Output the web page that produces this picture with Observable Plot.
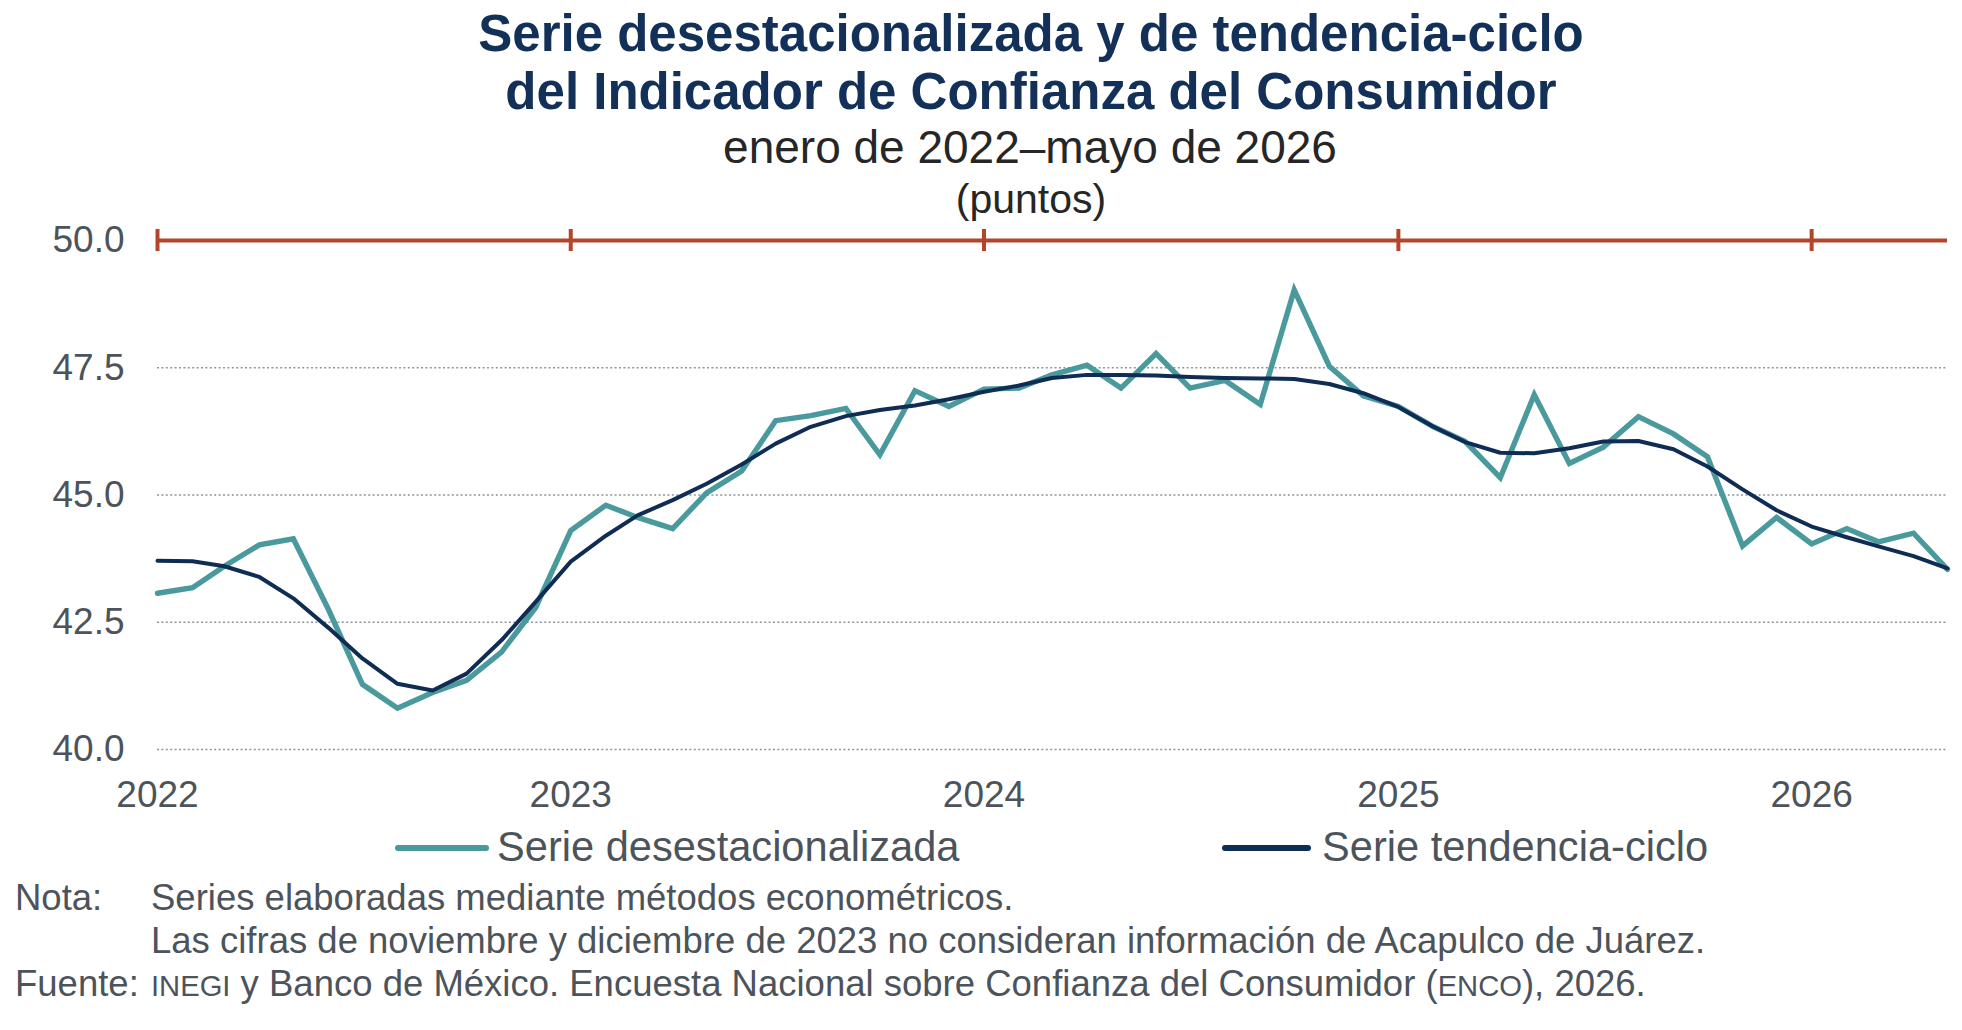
<!DOCTYPE html>
<html>
<head>
<meta charset="utf-8">
<script src="https://cdn.jsdelivr.net/npm/d3@7"></script>
<script src="https://cdn.jsdelivr.net/npm/@observablehq/plot@0.6"></script>
<style>
  html, body { margin: 0; padding: 0; background: #ffffff; }
  body { width: 1962px; height: 1030px; position: relative; overflow: hidden;
         font-family: "Liberation Sans", Arial, Helvetica, sans-serif; }
  .t { position: absolute; white-space: nowrap; line-height: 1; }
  .c { transform: translateX(-50%); }
  .title { font-weight: bold; font-size: 51px; color: #123058; }
  .sub { font-size: 46px; color: #262626; }
  .unit { font-size: 41px; color: #262626; }
  .leg { font-size: 41.6px; color: #4c535b; }
  .note { font-size: 36.5px; color: #4c535b; }
  .sc { font-size: 0.8em; }
  .sw { position: absolute; height: 6px; border-radius: 3px; }
  #chart { position: absolute; left: 0; top: 200px; }
</style>
</head>
<body>
<div class="t c title" style="left:1031px; top:8px;">Serie desestacionalizada y de tendencia-ciclo</div>
<div class="t c title" style="left:1031px; top:66px;">del Indicador de Confianza del Consumidor</div>
<div class="t c sub" style="left:1030px; top:124px;">enero de 2022–mayo de 2026</div>
<div class="t c unit" style="left:1031px; top:179px;">(puntos)</div>
<div id="chart"></div>
<div class="sw" style="left:395px; width:94px; top:845px; background:#4a9a9d;"></div>
<div class="t leg" style="left:497px; top:826px;">Serie desestacionalizada</div>
<div class="sw" style="left:1222px; width:89px; top:845px; background:#0f2c55;"></div>
<div class="t leg" style="left:1322px; top:826px;">Serie tendencia-ciclo</div>
<div class="t note" style="left:15px; top:880px;">Nota:</div>
<div class="t note" style="left:151px; top:880px;">Series elaboradas mediante métodos econométricos.</div>
<div class="t note" style="left:151px; top:923px;">Las cifras de noviembre y diciembre de 2023 no consideran información de Acapulco de Juárez.</div>
<div class="t note" style="left:15px; top:966px;">Fuente:</div>
<div class="t note" style="left:151px; top:966px;"><span class="sc">INEGI</span> y Banco de México. Encuesta Nacional sobre Confianza del Consumidor (<span class="sc">ENCO</span>), 2026.</div>
<script>
// Primer mes de la serie: enero de 2022 (53 meses hasta mayo de 2026)
const inicio = "2022-01-01";
const fin = "2026-05-01";

const desestacionalizada = [
  43.07, 43.18, 43.60, 44.02, 44.14, 42.75, 41.28, 40.81, 41.12, 41.36, 41.92, 42.79,
  44.30, 44.80, 44.56, 44.34, 45.04, 45.47, 46.46, 46.56, 46.70, 45.79, 47.05, 46.74,
  47.08, 47.10, 47.36, 47.55, 47.10, 47.78, 47.10, 47.25, 46.78, 49.03, 47.53, 46.95,
  46.74, 46.34, 46.05, 45.34, 46.97, 45.62, 45.94, 46.54, 46.20, 45.75, 44.00, 44.56,
  44.04, 44.34, 44.08, 44.25, 43.54
];

const tendenciaCiclo = [
  43.71, 43.70, 43.60, 43.39, 42.97, 42.39, 41.79, 41.29, 41.16, 41.49, 42.15, 42.90,
  43.69, 44.20, 44.60, 44.90, 45.22, 45.60, 46.01, 46.34, 46.55, 46.67, 46.76, 46.88,
  47.03, 47.15, 47.30, 47.36, 47.36, 47.35, 47.32, 47.30, 47.29, 47.28, 47.18, 47.00,
  46.73, 46.34, 46.04, 45.83, 45.82, 45.92, 46.05, 46.06, 45.90, 45.56, 45.11, 44.70,
  44.38, 44.17, 43.99, 43.80, 43.56
];

const aniosTicks = ["2022-01-01", "2023-01-01", "2024-01-01", "2025-01-01", "2026-01-01"];
const yTicks = [40, 42.5, 45, 47.5, 50];
const yGrid = [40, 42.5, 45, 47.5];
const yTope = [50];

const colores = { des: "#4a9a9d", ten: "#0f2c55", tope: "#b3462a", texto: "#4c535b", grid: "#8d949b" };

const t0 = new Date(inicio);
const fecha = (i) => d3.utcMonth.offset(t0, i);
const datosDes = desestacionalizada.map((v, i) => ({ fecha: fecha(i), valor: v }));
const datosTen = tendenciaCiclo.map((v, i) => ({ fecha: fecha(i), valor: v }));
const anios = aniosTicks.map((d) => new Date(d));

const plot = Plot.plot({
  width: 1962,
  height: 620,
  marginTop: 40,
  marginBottom: 71,
  marginLeft: 157,
  marginRight: 15,
  style: { fontFamily: '"Liberation Sans", Arial, sans-serif', color: colores.texto, background: "transparent" },
  x: { type: "utc", domain: [new Date(inicio), new Date(fin)] },
  y: { domain: [40, 50] },
  marks: [
    Plot.ruleY(yGrid, { stroke: colores.grid, strokeWidth: 1.6, strokeDasharray: "2,2.4" }),
    Plot.line(datosDes, { x: "fecha", y: "valor", stroke: colores.des, strokeWidth: 5.4, strokeLinejoin: "miter", strokeMiterlimit: 4 }),
    Plot.line(datosTen, { x: "fecha", y: "valor", stroke: colores.ten, strokeWidth: 4, strokeLinejoin: "round" }),
    Plot.ruleY(yTope, { stroke: colores.tope, strokeWidth: 4 }),
    Plot.ruleX(anios, { x: (d) => d, y1: 50, y2: 50, insetTop: -11, insetBottom: -11, stroke: colores.tope, strokeWidth: 4 }),
    Plot.axisY({ ticks: yTicks, tickFormat: d3.format(".1f"), tickSize: 0, tickPadding: 33, fontSize: 37, label: null }),
    Plot.axisX({ ticks: anios, tickFormat: d3.utcFormat("%Y"), tickSize: 0, tickPadding: 31, fontSize: 37, label: null })
  ]
});
document.getElementById("chart").appendChild(plot);
</script>
</body>
</html>
